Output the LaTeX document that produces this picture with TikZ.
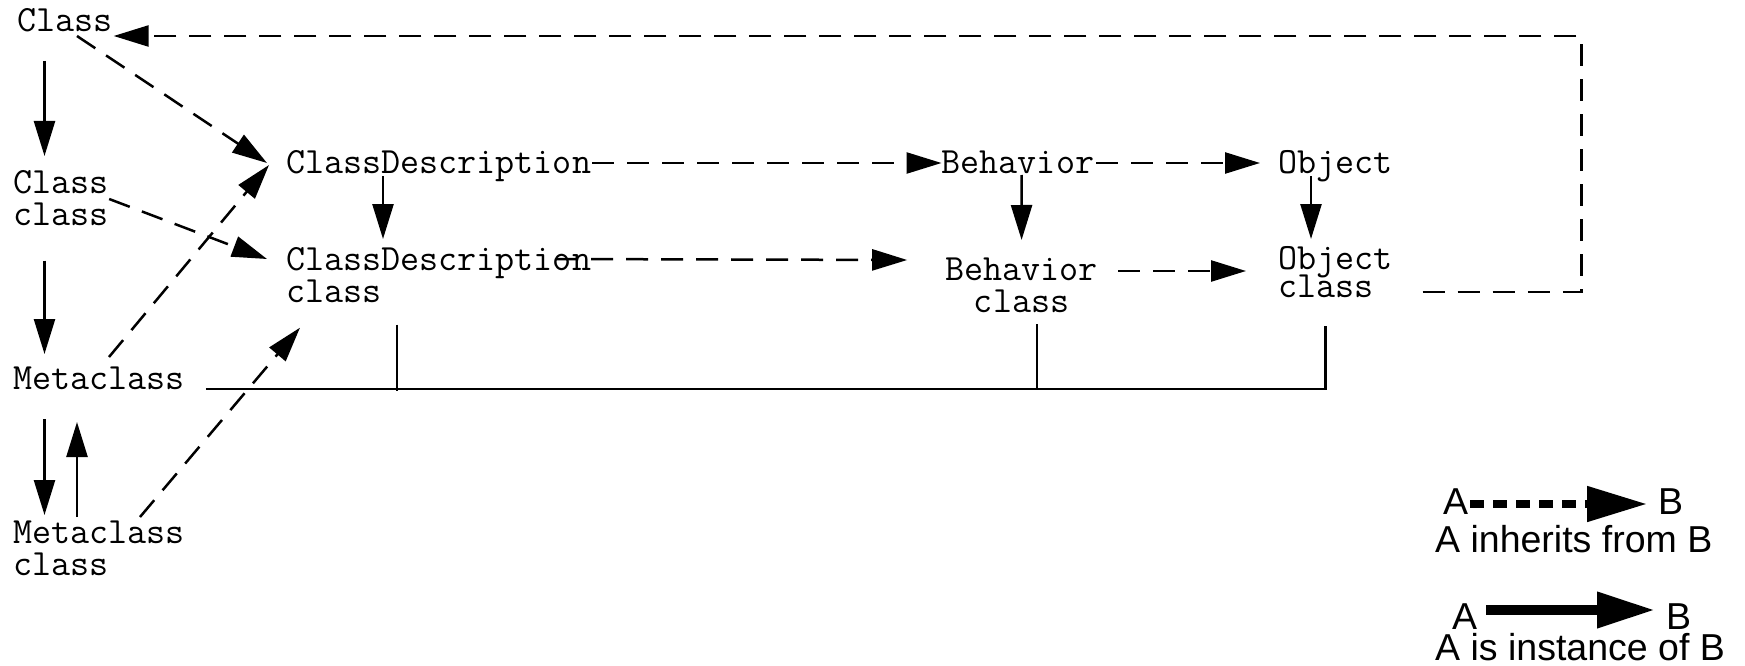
\documentclass[tikz,border=0pt]{standalone}
\usepackage{fontspec}
\newfontfamily\legendfont{Liberation Sans}
\usetikzlibrary{arrows.meta,calc}

\begin{document}
\begin{tikzpicture}[
        x=1pt, y=-1pt,
        every node/.style={
                inner sep=0pt,
                font=\fontsize{37}{32}\selectfont\ttfamily
            },
        lbl/.style={anchor=base west},
        lbltwo/.style={anchor=north west, align=left},
        inst/.style={draw, line width=2.5pt, -{Triangle[length=35pt,width=21pt]}},
        inh/.style={inst, dash pattern=on 22pt off 13pt},
        bar/.style={draw, line width=2.5pt},
        legend/.style={anchor=base west, font=\fontsize{37.5}{40}\selectfont\legendfont},
        leginh/.style={draw, line width=8pt, dash pattern=on 14pt off 9pt,
                -{Triangle[length=60pt,width=34pt]}},
        leginst/.style={draw, line width=10pt, -{Triangle[length=58pt,width=34pt]}}
    ]
    \useasboundingbox (0,0) rectangle (1745,666);

    % left column
    \node[lbl] (cls) at (17,32) {Class};
    \node[lbltwo] (clscls) at (13,170) {Class\\class};
    \node[lbl] (meta) at (13,389) {Metaclass};
    \node[lbltwo] (metacls) at (13,521) {Metaclass\\class};

    % classes and their metaclasses
    \node[lbl] (cd) at (286,173) {ClassDescription};
    \node[lbl] (beh) at (941.5,173) {Behavior};
    \node[lbl] (obj) at (1278,173) {Object};
    \node[lbltwo] (cdcls) at (286,247) {ClassDescription\\class};
    \node[anchor=north, align=center] (behcls) at (1021.6,258) {Behavior\\class};
    \node[lbltwo] (objcls) at (1278,246) {Object\\[-4pt]class};

    % instance of
    \draw[inst] ($(cls.base west)+(27.5,29)$) -- ($(clscls.north west)+(31.5,-14)$);
    \draw[inst] ($(clscls.south west)+(31.5,35)$) -- ($(meta.base west)+(31.5,-35)$);
    \draw[inst] ($(meta.base west)+(31.5,30)$) -- ($(metacls.north west)+(31.5,-6)$);
    \draw[inst] ($(metacls.north west)+(64,-4)$) -- ($(meta.base west)+(64,33)$);
    \draw[inst] ($(cd.base west)+(97,3)$) -- ($(cdcls.north west)+(97,-8)$);
    \draw[inst] ($(beh.base west)+(80,2)$) -- ($(behcls.north)+(0,-18)$);
    \draw[inst] ($(obj.base west)+(33,3)$) -- ($(objcls.north west)+(33,-7)$);

    % inherits from
    \draw[inh] ($(cls.base west)+(60,4)$) -- ($(cd.base west)+(-19,-10)$);
    \draw[inh] ($(clscls.north east)+(0.5,29)$) -- ($(cdcls.north west)+(-19,12)$);
    \draw[inh] ($(meta.base west)+(96,-32)$) -- ($(cd.base west)+(-17,-8)$);
    \draw[inh] ($(metacls.north west)+(127,-4)$) -- ($(cdcls.south west)+(14,25)$);
    \draw[inh] ($(cd.base east)+(1,-10)$) -- ($(beh.base west)+(0,-10)$);
    \draw[inh] ($(beh.base east)+(2,-10)$) -- ($(obj.base west)+(-18,-10)$);
    \draw[inh] ($(cdcls.north west)+(270,12)$) -- ($(behcls.north west)+(-38,2)$);
    \draw[inh] ($(behcls.north east)+(20,13)$) -- ($(objcls.north west)+(-32,25)$);
    \coordinate (corner) at (1581.5,36);
    \draw[inh] ($(objcls.north east)+(30,46)$) -| (corner) -- ($(cls.base east)+(1,4)$);

    % bracket under the metaclasses
    \draw[bar] ($(meta.base east)+(21,0)$) -| ($(objcls.south west)+(47.5,28)$);
    \draw[bar] ($(cdcls.south west)+(111,22)$) -- ++(0,66);
    \draw[bar] ($(behcls.south)+(15.5,11)$) -- ++(0,66);

    % legend
    \node[legend] (lgAi) at (1443,514) {A};
    \node[legend] (lgBi) at (1658,514) {B};
    \node[legend] (lgti) at (1435,552) {A inherits from B};
    \node[legend] (lgAs) at (1452,629) {A};
    \node[legend] (lgBs) at (1666,629) {B};
    \node[legend] (lgts) at (1435,660) {A is instance of B};
    \draw[leginh] ($(lgAi.base east)+(2,-10)$) -- ($(lgBi.base west)+(-11,-10)$);
    \draw[leginst] ($(lgAs.base east)+(9,-19)$) -- ($(lgBs.base west)+(-11,-19)$);

\end{tikzpicture}
\end{document}
